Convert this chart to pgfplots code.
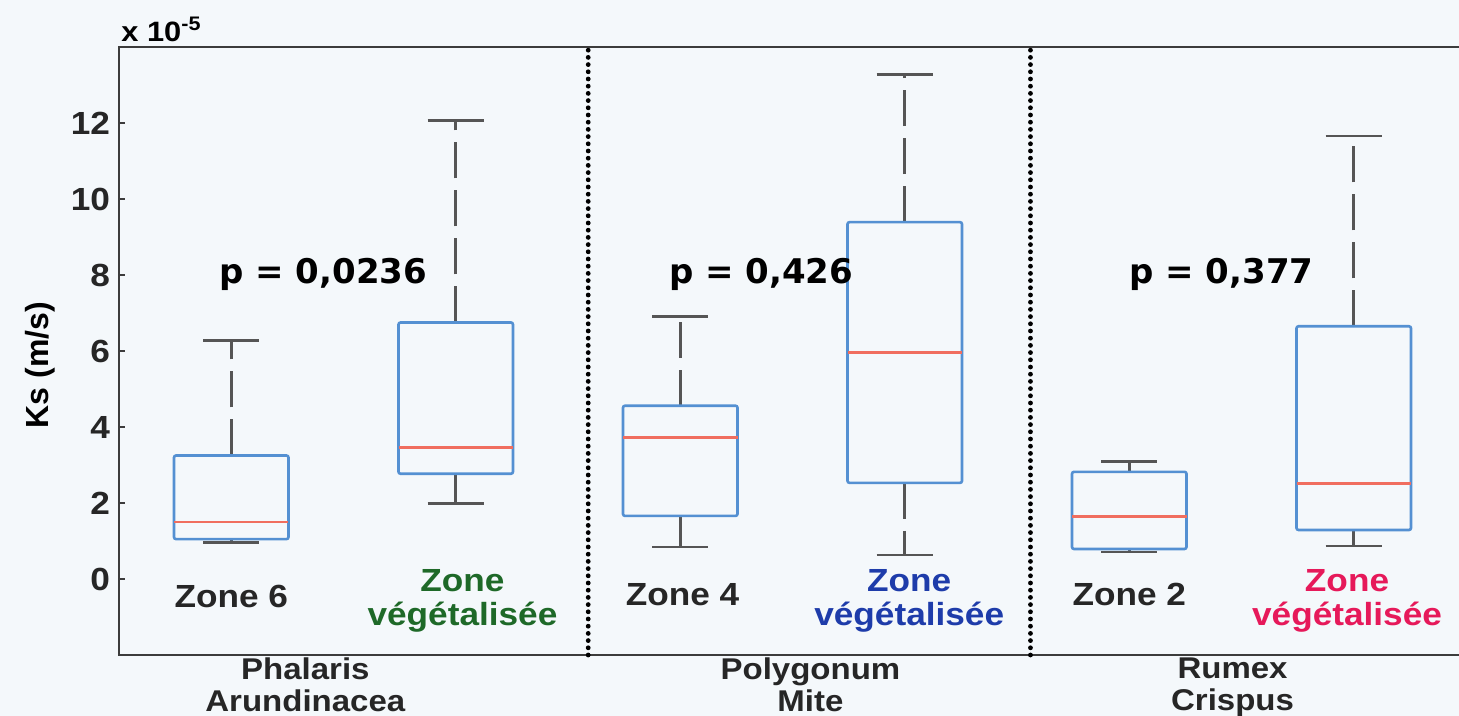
\documentclass[border=0pt]{standalone}
\usepackage{fontspec}
\setmainfont{Liberation Sans}
\newfontfamily\dvs{DejaVu Sans}
\newfontfamily\wsans{Liberation Sans}[FakeStretch=1.1]
\usepackage{pgfplots}
\pgfplotsset{compat=1.18}
\usepgfplotslibrary{statistics}
\definecolor{bgcol}{RGB}{244,248,251}
\definecolor{boxblue}{RGB}{84,144,210}
\definecolor{medred}{RGB}{240,110,95}
\definecolor{wgray}{RGB}{85,85,85}
\definecolor{axgray}{RGB}{60,60,60}
\definecolor{vgreen}{RGB}{30,105,40}
\definecolor{vblue}{RGB}{30,60,170}
\definecolor{vpink}{RGB}{230,25,90}
\pgfplotsset{
  boxplot/draw/upper whisker/.code={%
    \draw[wgray, line width=1.6pt, dash pattern=on 18pt off 6pt]
      (boxplot box cs:\pgfplotsboxplotvalue{upper quartile},0.5) -- (boxplot box cs:\pgfplotsboxplotvalue{upper whisker},0.5);
    \draw[wgray, line width=1.4pt]
      (boxplot whisker cs:\pgfplotsboxplotvalue{upper whisker},0) -- (boxplot whisker cs:\pgfplotsboxplotvalue{upper whisker},1);
  },
  boxplot/draw/lower whisker/.code={%
    \draw[wgray, line width=1.6pt, dash pattern=on 18pt off 6pt]
      (boxplot box cs:\pgfplotsboxplotvalue{lower quartile},0.5) -- (boxplot box cs:\pgfplotsboxplotvalue{lower whisker},0.5);
    \draw[wgray, line width=1.4pt]
      (boxplot whisker cs:\pgfplotsboxplotvalue{lower whisker},0) -- (boxplot whisker cs:\pgfplotsboxplotvalue{lower whisker},1);
  },
  boxplot/every box/.style={draw=boxblue, line width=1.3pt, rounded corners=1pt},
  boxplot/every median/.style={draw=medred, line width=1.2pt},
}
\begin{document}
\begin{tikzpicture}
\fill[bgcol] (-59.5pt,-30.5pt) rectangle (670pt,327.5pt);
\begin{axis}[
  scale only axis,
  width=673.5pt, height=304pt,
  xmin=0.5, xmax=6.5, ymin=-2, ymax=14,
  boxplot/draw direction=y,
  axis line style={axgray, line width=1.4pt},
  ytick={0,2,4,6,8,10,12},
  ytick pos=both,
  major tick length=3pt,
  tick style={axgray, line width=0.8pt},
  xtick={1.33,3.58,5.46},
  xticklabels={Phalaris\\Arundinacea, Polygonum\\Mite, Rumex\\Crispus},
  xtick style={draw=none},
  xticklabel style={font=\wsans\fontsize{15}{16}\selectfont\bfseries, align=center, text=black!85, inner sep=1pt},
  yticklabel style={font=\wsans\fontsize{16}{18}\selectfont\bfseries, text=black!85, xshift=-1pt},
  /pgf/number format/assume math mode=true,
  clip=false,
]
\addplot[boxplot prepared={draw position=1, lower whisker=0.97, lower quartile=1.05, median=1.5, upper quartile=3.25, upper whisker=6.28, box extend=0.51, whisker extend=0.25}] coordinates {};
\addplot[boxplot prepared={draw position=2, lower whisker=1.98, lower quartile=2.77, median=3.46, upper quartile=6.75, upper whisker=12.06, box extend=0.51, whisker extend=0.25}] coordinates {};
\addplot[boxplot prepared={draw position=3, lower whisker=0.84, lower quartile=1.66, median=3.72, upper quartile=4.56, upper whisker=6.91, box extend=0.51, whisker extend=0.25}] coordinates {};
\addplot[boxplot prepared={draw position=4, lower whisker=0.63, lower quartile=2.53, median=5.96, upper quartile=9.39, upper whisker=13.27, box extend=0.51, whisker extend=0.25}] coordinates {};
\addplot[boxplot prepared={draw position=5, lower whisker=0.71, lower quartile=0.79, median=1.64, upper quartile=2.82, upper whisker=3.09, box extend=0.51, whisker extend=0.25}] coordinates {};
\addplot[boxplot prepared={draw position=6, lower whisker=0.87, lower quartile=1.29, median=2.51, upper quartile=6.65, upper whisker=11.66, box extend=0.51, whisker extend=0.25}] coordinates {};
% separators
\addplot[black, line width=2.4pt, dash pattern=on 0pt off 3.6pt, line cap=round] coordinates {(2.59,-2) (2.59,14)};
\addplot[black, line width=2.4pt, dash pattern=on 0pt off 3.6pt, line cap=round] coordinates {(4.56,-2) (4.56,14)};
% p values
\node[anchor=base, font=\dvs\fontsize{17}{19}\selectfont\bfseries] at (axis cs:1.41,7.78) {p = 0,0236};
\node[anchor=base, font=\dvs\fontsize{17}{19}\selectfont\bfseries] at (axis cs:3.36,7.78) {p = 0,426};
\node[anchor=base, font=\dvs\fontsize{17}{19}\selectfont\bfseries] at (axis cs:5.41,7.78) {p = 0,377};
% zone labels
\node[font=\wsans\fontsize{16}{17}\selectfont\bfseries, text=black!85] at (axis cs:1,-0.45) {Zone 6};
\node[font=\wsans\fontsize{16}{17}\selectfont\bfseries, text=vgreen, align=center] at (axis cs:2.03,-0.58) {Zone\\végétalisée};
\node[font=\wsans\fontsize{16}{17}\selectfont\bfseries, text=black!85] at (axis cs:3.01,-0.4) {Zone 4};
\node[font=\wsans\fontsize{16}{17}\selectfont\bfseries, text=vblue, align=center] at (axis cs:4.02,-0.58) {Zone\\végétalisée};
\node[font=\wsans\fontsize{16}{17}\selectfont\bfseries, text=black!85] at (axis cs:5,-0.4) {Zone 2};
\node[font=\wsans\fontsize{16}{17}\selectfont\bfseries, text=vpink, align=center] at (axis cs:5.97,-0.58) {Zone\\végétalisée};
% exponent and y label
\node[anchor=south west, font=\wsans\fontsize{14}{16}\selectfont\bfseries, inner sep=0pt] at ([xshift=1pt,yshift=2.5pt]rel axis cs:0,1) {x 10\textsuperscript{-5}};
\node[rotate=90, font=\fontsize{16}{18}\selectfont\bfseries] at ([xshift=-39.5pt,yshift=-7pt]rel axis cs:0,0.5) {Ks (m/s)};
\end{axis}
\pgfresetboundingbox
\path[use as bounding box] (-59.5pt,-30.5pt) rectangle (670pt,327.5pt);
\end{tikzpicture}
\end{document}
